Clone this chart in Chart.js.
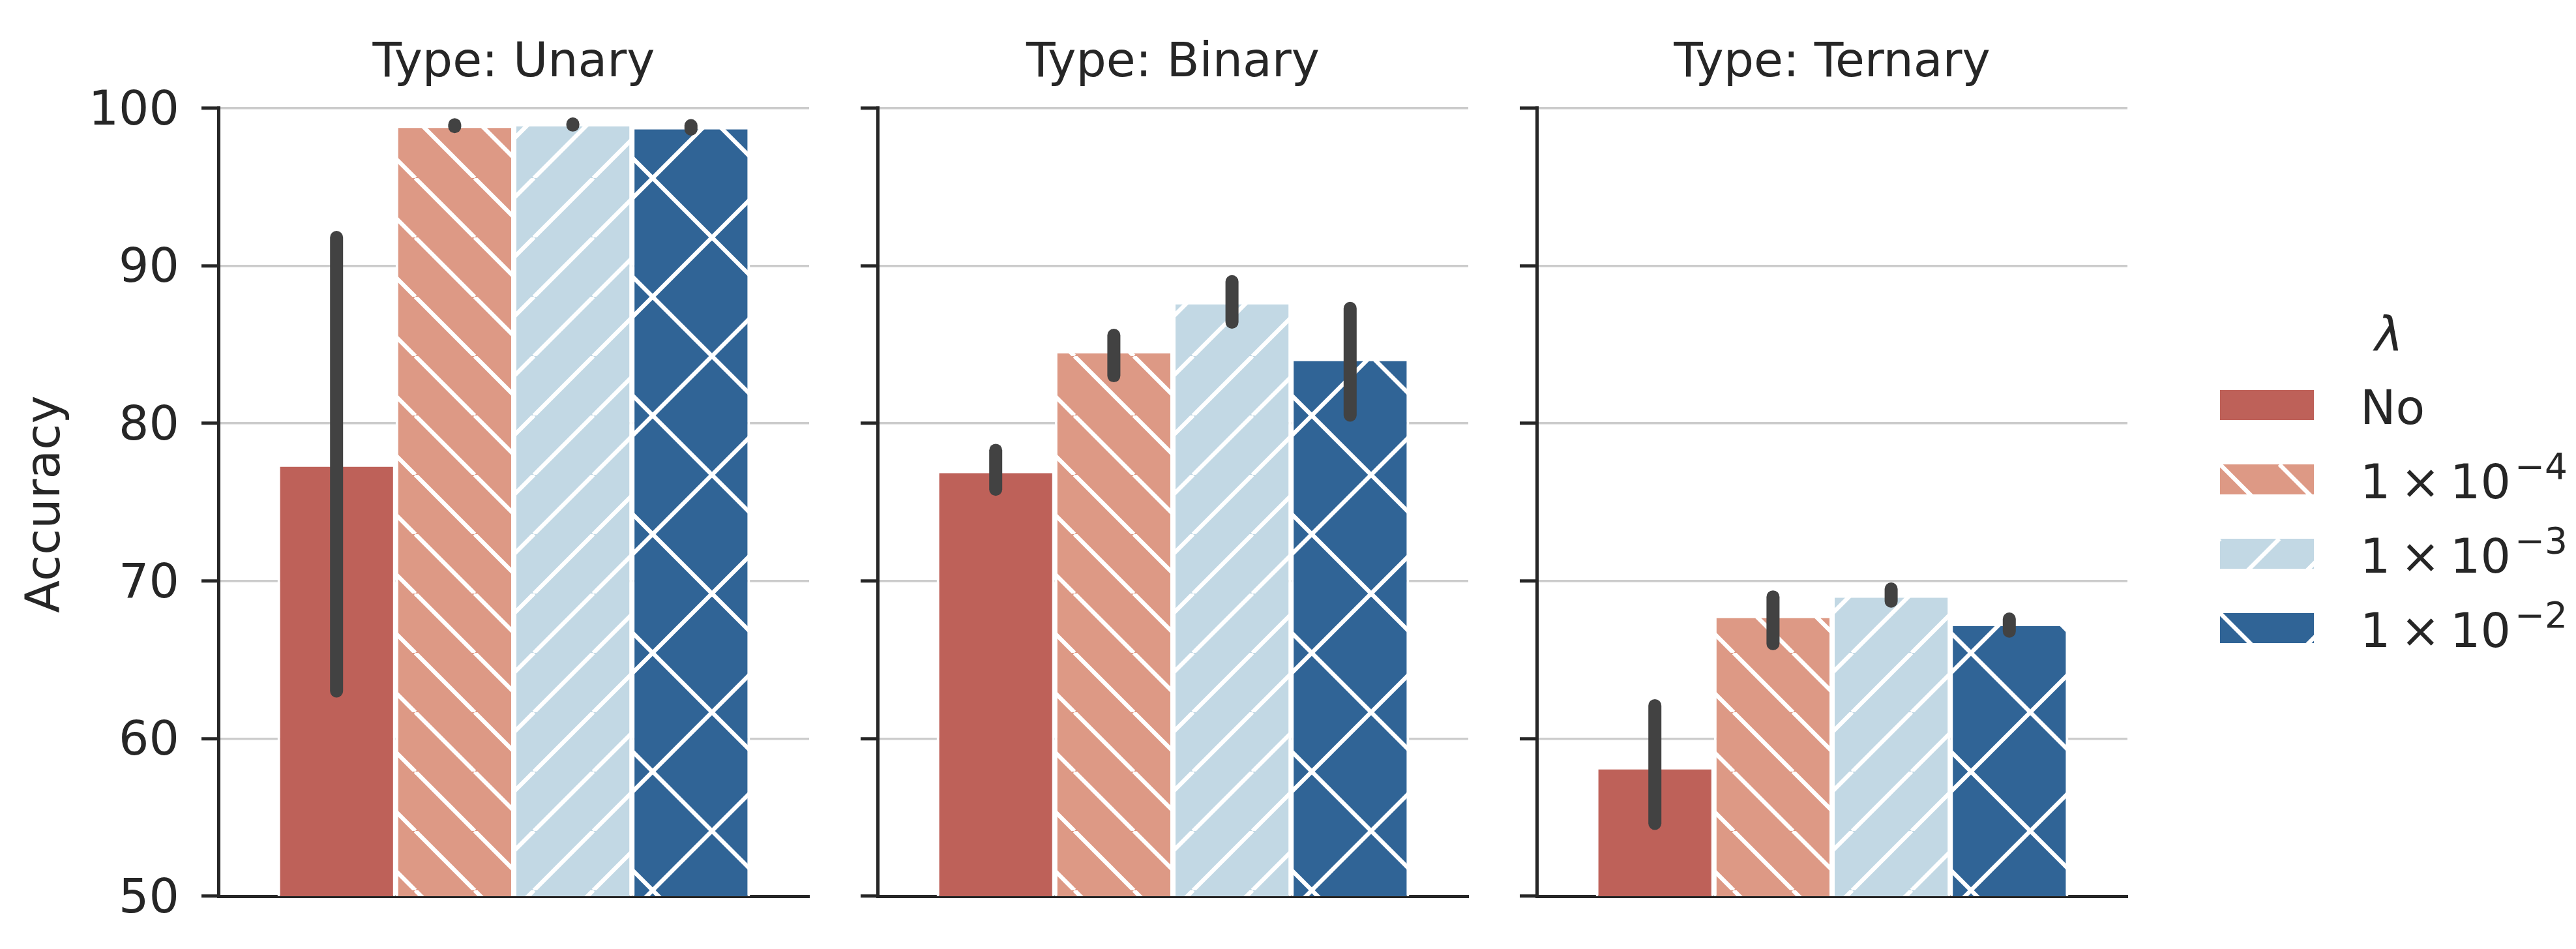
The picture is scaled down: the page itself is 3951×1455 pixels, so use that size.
<!DOCTYPE html>
<html>
<head>
<meta charset="utf-8">
<script src="https://cdn.jsdelivr.net/npm/chart.js@4.4.0/dist/chart.umd.min.js"></script>
<style>
  html, body { margin: 0; padding: 0; background: #fff; }
  body { width: 3951px; height: 1455px; position: relative; overflow: hidden;
         font-family: "DejaVu Sans", sans-serif; color: #262626; }
  canvas.panel { position: absolute; top: 0; }
  .txt { position: absolute; font-size: 73px; line-height: 73px; white-space: nowrap; }
  #ylabel { left: 65px; top: 773px; transform: translate(-50%, -50%) rotate(-90deg); }
  .sup { font-size: 55px; position: relative; top: -30px; margin-left: 6px; }
  .patch { position: absolute; }
</style>
</head>
<body>
<div id="ylabel" class="txt">Accuracy</div>
<div id="legend"></div>
<script>
// facets and hue levels
const types = ["Unary", "Binary", "Ternary"];
const lambdaNames = ["No", "1e-4", "1e-3", "1e-2"];

// mean accuracy per type (Unary, Binary, Ternary)
const accNo  = [77.4, 77.0, 58.2];
const acc1e4 = [98.9, 84.6, 67.8];
const acc1e3 = [99.0, 87.7, 69.1];
const acc1e2 = [98.8, 84.1, 67.3];

// confidence interval ends
const lowNo  = [62.6, 75.4, 54.2];
const low1e4 = [98.4, 82.6, 65.6];
const low1e3 = [98.5, 86.0, 68.3];
const low1e2 = [98.25, 80.1, 66.4];
const highNo  = [92.2, 78.7, 62.5];
const high1e4 = [99.35, 86.0, 69.4];
const high1e3 = [99.4, 89.4, 69.9];
const high1e2 = [99.3, 87.7, 68.0];

const yTicks = [50, 60, 70, 80, 90, 100];

const means = [accNo, acc1e4, acc1e3, acc1e2];
const lows = [lowNo, low1e4, low1e3, low1e2];
const highs = [highNo, high1e4, high1e3, high1e2];

const colors = ["#be6159", "#dd9985", "#c2d8e4", "#306496"];
const hatches = ["", "\\\\", "//", "x"];
const legendExp = ["", "\u22124", "\u22123", "\u22122"];

const INK = "#262626";
const panelLeft = [335, 1346, 2357];
const PLOT_W = 906;
const AX = 335;
const RIGHT_PAD = 20;

Chart.defaults.font.family = "DejaVu Sans";
Chart.defaults.color = INK;

function hatchTile(color, hatch) {
  const s = hatch === "x" ? 182 : 91;
  const c = document.createElement("canvas");
  c.width = s; c.height = s;
  const g = c.getContext("2d");
  g.fillStyle = color;
  g.fillRect(0, 0, s, s);
  g.strokeStyle = "#ffffff";
  g.lineWidth = 6.5;
  const up = hatch.includes("/") || hatch === "x";
  const down = hatch.includes("\\") || hatch === "x";
  for (let k = -1; k <= 1; k++) {
    if (up) { g.beginPath(); g.moveTo(k * s, s); g.lineTo(k * s + s, 0); g.stroke(); }
    if (down) { g.beginPath(); g.moveTo(k * s, 0); g.lineTo(k * s + s, s); g.stroke(); }
  }
  return c;
}

function fillFor(ctx, j) {
  if (!hatches[j]) return colors[j];
  return ctx.createPattern(hatchTile(colors[j], hatches[j]), "repeat");
}

// error bars drawn on top of the bars
const errorBars = {
  id: "errorBars",
  afterDatasetsDraw(chart) {
    const { ctx } = chart;
    const y = chart.scales.y;
    const half = 10;
    ctx.save();
    ctx.strokeStyle = "#424242";
    ctx.lineWidth = 2 * half;
    ctx.lineCap = "round";
    chart.data.datasets.forEach((ds, i) => {
      const bar = chart.getDatasetMeta(i).data[0];
      let top = y.getPixelForValue(ds.errHigh) + half;
      let bot = y.getPixelForValue(ds.errLow) - half;
      if (bot < top) { const m = (top + bot) / 2; top = m; bot = m; }
      ctx.beginPath();
      ctx.moveTo(bar.x, top);
      ctx.lineTo(bar.x, bot);
      ctx.stroke();
    });
    ctx.restore();
  }
};

types.forEach((type, i) => {
  const canvas = document.createElement("canvas");
  canvas.className = "panel";
  canvas.width = AX + PLOT_W + RIGHT_PAD;
  canvas.height = 1455;
  canvas.style.left = (panelLeft[i] - AX) + "px";
  document.body.appendChild(canvas);
  const ctx = canvas.getContext("2d");

  new Chart(ctx, {
    type: "bar",
    data: {
      labels: [type],
      datasets: lambdaNames.map((name, j) => ({
        label: name,
        data: [means[j][i]],
        errLow: lows[j][i],
        errHigh: highs[j][i],
        backgroundColor: fillFor(ctx, j),
        borderColor: "#ffffff",
        borderWidth: 4,
        categoryPercentage: 0.8,
        barPercentage: 1.0
      }))
    },
    options: {
      responsive: false,
      animation: false,
      layout: { padding: { top: 0, bottom: 81, left: 0, right: RIGHT_PAD } },
      plugins: {
        legend: { display: false },
        tooltip: { enabled: false },
        title: {
          display: true,
          text: "Type: " + type,
          fullSize: false,
          color: INK,
          font: { size: 73, weight: "normal", lineHeight: 1.2 },
          padding: { top: 54, bottom: 24 }
        }
      },
      scales: {
        x: {
          z: 1,
          grid: { display: false, drawTicks: false },
          ticks: { display: false },
          border: { display: true, color: INK, width: 5 },
          afterFit(s) { s.height = 0; }
        },
        y: {
          min: yTicks[0],
          max: yTicks[yTicks.length - 1],
          ticks: {
            stepSize: yTicks[1] - yTicks[0],
            display: i === 0,
            color: INK,
            font: { size: 73 },
            padding: 34,
            labelOffset: 6
          },
          grid: { color: "#cccccc", lineWidth: 3.5, tickColor: INK, tickWidth: 5, tickLength: 26, drawTicks: true },
          border: { display: true, color: INK, width: 5 },
          afterFit(s) { s.width = AX; }
        }
      }
    },
    plugins: [errorBars]
  });
});

// legend
const legend = document.getElementById("legend");
const title = document.createElement("div");
title.className = "txt";
title.style.left = "3564px";
title.style.width = "200px";
title.style.textAlign = "center";
title.style.top = (538 - 62) + "px";
title.style.fontStyle = "italic";
title.textContent = "\u03bb";
legend.appendChild(title);

lambdaNames.forEach((name, j) => {
  const rowTop = 598 + 114 * j;
  const p = document.createElement("canvas");
  p.className = "patch";
  p.width = 144; p.height = 46;
  p.style.left = "3405px";
  p.style.top = rowTop + "px";
  const g = p.getContext("2d");
  g.fillStyle = fillFor(g, j);
  g.fillRect(0, 0, 144, 46);
  legend.appendChild(p);

  const t = document.createElement("div");
  t.className = "txt";
  t.style.left = "3620px";
  t.style.top = (650 + 114 * j - 62) + "px";
  if (j === 0) {
    t.textContent = name;
  } else {
    t.style.wordSpacing = "-8px";
    t.innerHTML = "1 \u00d7 10<span class=\"sup\">" + legendExp[j] + "</span>";
  }
  legend.appendChild(t);
});
</script>
</body>
</html>
